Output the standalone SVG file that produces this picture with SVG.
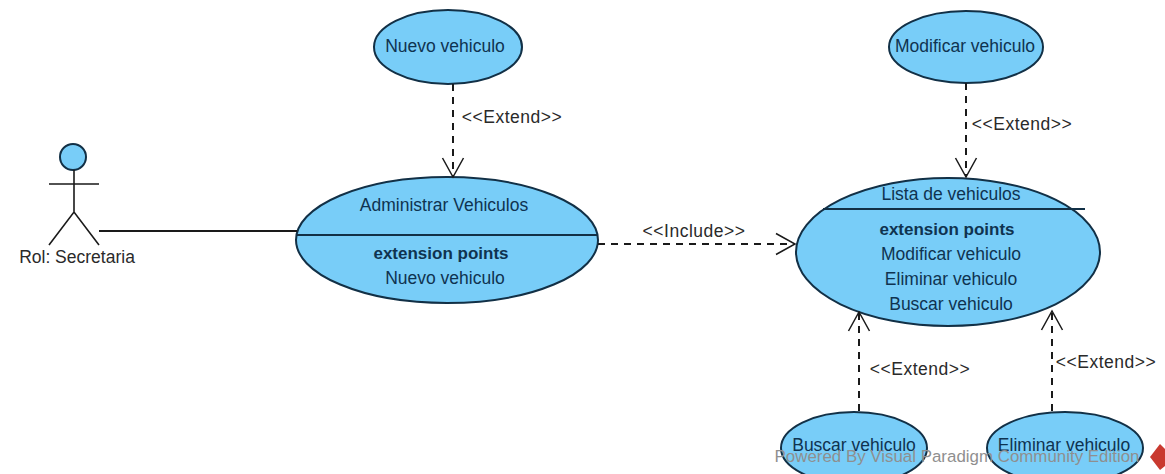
<svg xmlns="http://www.w3.org/2000/svg" width="1165" height="474" viewBox="0 0 1165 474">
<defs>
<marker id="open" markerUnits="userSpaceOnUse" markerWidth="24" markerHeight="26" refX="21" refY="13" orient="auto">
<path d="M2 2.500L21 13L2 23.500" fill="none" stroke="#1a1a1a" stroke-width="1.500"/>
</marker>
</defs>
<style>
text{font-family:"Liberation Sans",Arial,sans-serif;font-size:17.500px;text-anchor:middle;fill:#0f3350}
.lbl{fill:#2a2a2a}
.conn{letter-spacing:.5px}
.uc{fill:#78cdf8;stroke:#123046;stroke-width:2}
.sep{stroke:#123046;stroke-width:2;fill:none}
.dash{fill:none;stroke:#1a1a1a;stroke-width:2;stroke-dasharray:7 6;marker-end:url(#open)}
.fig{fill:none;stroke:#1a1a1a;stroke-width:1.600}
.b{font-weight:bold}
</style>
<rect width="1165" height="474" fill="#ffffff"/>
<g id="uc-nuevo">
<ellipse class="uc" cx="448" cy="47" rx="74" ry="37"/>
<text x="445" y="52">Nuevo vehiculo</text>
</g>
<g id="uc-modificar">
<ellipse class="uc" cx="966" cy="47" rx="77" ry="36"/>
<text x="965" y="52">Modificar vehiculo</text>
</g>
<g id="uc-administrar">
<ellipse class="uc" cx="447" cy="240" rx="151" ry="63"/>
<path class="sep" d="M297 235H597"/>
<text x="444" y="211">Administrar Vehiculos</text>
<text class="b" x="441" y="259" style="font-size:17px">extension points</text>
<text x="445" y="284">Nuevo vehiculo</text>
</g>
<g id="uc-lista">
<ellipse class="uc" cx="948" cy="252" rx="152" ry="74"/>
<path class="sep" d="M823 209H1085"/>
<text x="951" y="200">Lista de vehiculos</text>
<text class="b" x="947" y="235" style="font-size:17px">extension points</text>
<text x="951" y="260">Modificar vehiculo</text>
<text x="951" y="285">Eliminar vehiculo</text>
<text x="951" y="310">Buscar vehiculo</text>
</g>
<g id="uc-buscar">
<ellipse class="uc" cx="854" cy="448" rx="73" ry="36"/>
<text x="854" y="451">Buscar vehiculo</text>
</g>
<g id="uc-eliminar">
<ellipse class="uc" cx="1065" cy="448" rx="78" ry="36"/>
<text x="1064" y="451">Eliminar vehiculo</text>
</g>
<g id="connectors">
<path d="M99 231H297" fill="none" stroke="#1a1a1a" stroke-width="2"/>
<path class="dash" d="M453 84V177"/>
<path class="dash" d="M598 244H795"/>
<path class="dash" d="M966 83V177"/>
<path class="dash" d="M859 411V312"/>
<path class="dash" d="M1052 411V311"/>
<text class="lbl conn" x="512" y="123">&lt;&lt;Extend&gt;&gt;</text>
<text class="lbl conn" x="694" y="237">&lt;&lt;Include&gt;&gt;</text>
<text class="lbl conn" x="1022" y="130">&lt;&lt;Extend&gt;&gt;</text>
<text class="lbl conn" x="920" y="375">&lt;&lt;Extend&gt;&gt;</text>
<text class="lbl conn" x="1106" y="368">&lt;&lt;Extend&gt;&gt;</text>
</g>
<g id="actor-secretaria">
<circle cx="73" cy="157" r="13" fill="#78cdf8" stroke="#123046" stroke-width="2"/>
<path class="fig" d="M49 184H99M74 170V212M49 245L74 212L99 245"/>
<text class="lbl" x="77" y="263">Rol: Secretaria</text>
</g>
<g id="watermark">
<text x="957" y="462" style="fill:#8f8f8f;font-size:16.900px">Powered By  Visual Paradigm Community Edition</text>
<path d="M1150 457L1160 444L1165 449V466L1160 470Z" fill="#c9392f"/>
</g>
</svg>
